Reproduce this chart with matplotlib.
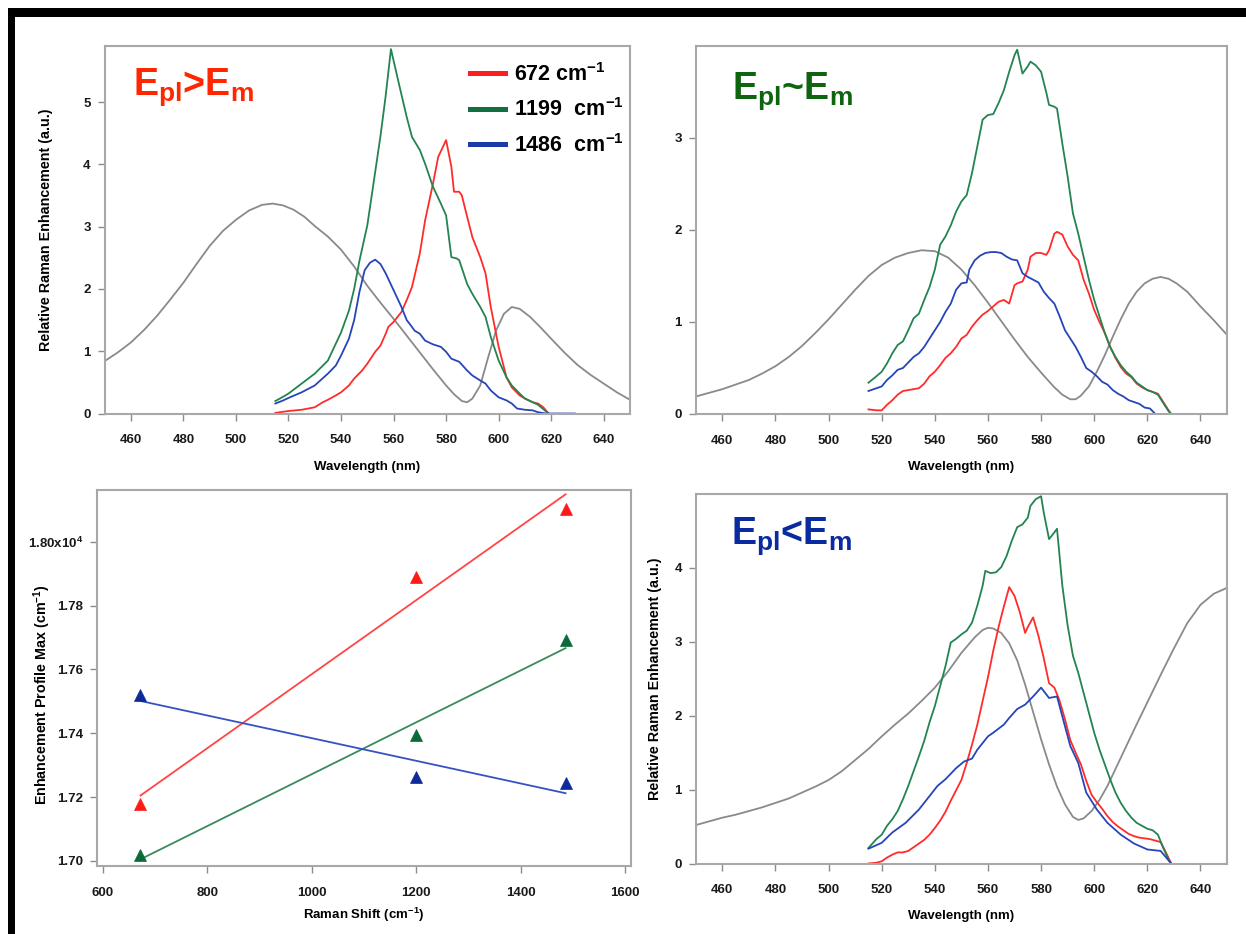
import numpy as np
import matplotlib
matplotlib.use("Agg")
import matplotlib.pyplot as plt
from matplotlib.lines import Line2D
from matplotlib.patches import Rectangle

plt.rcParams['font.family'] = ['Liberation Sans', 'DejaVu Sans']
plt.rcParams['font.weight'] = 'bold'
plt.rcParams['mathtext.fontset'] = 'custom'
plt.rcParams['mathtext.rm'] = 'Liberation Sans:bold'
plt.rcParams['mathtext.bf'] = 'Liberation Sans:bold'
plt.rcParams['mathtext.it'] = 'Liberation Sans:bold:italic'
plt.rcParams['mathtext.default'] = 'rm'

# ---------------- data ----------------
# Panel A : E_pl > E_m
gray_a_x = [450, 455, 460, 465, 470, 475, 480, 485, 490, 495, 500, 505, 510, 514, 518, 522, 526, 530, 535, 540, 545, 550, 555, 560, 565, 570, 575, 580, 583, 586, 588, 590, 593, 596, 599, 602, 605, 608, 612, 616, 620, 625, 630, 635, 640, 645, 650]
gray_a_y = [0.84, 0.98, 1.14, 1.34, 1.57, 1.83, 2.10, 2.40, 2.69, 2.93, 3.11, 3.26, 3.35, 3.37, 3.34, 3.27, 3.16, 3.01, 2.84, 2.63, 2.36, 2.05, 1.78, 1.52, 1.25, 0.98, 0.71, 0.45, 0.31, 0.20, 0.18, 0.24, 0.45, 0.90, 1.33, 1.60, 1.71, 1.68, 1.55, 1.38, 1.20, 0.98, 0.78, 0.62, 0.48, 0.34, 0.22]

red_a_x = [515, 520, 525, 530, 533, 535, 538, 540, 543, 545, 548, 550, 553, 555, 557, 558, 560, 563, 565, 567, 570, 572, 575, 577, 580, 582, 583, 585, 586, 588, 590, 593, 595, 597, 600, 603, 605, 608, 610, 613, 615, 617, 619]
red_a_y = [0.01, 0.04, 0.06, 0.10, 0.18, 0.22, 0.29, 0.34, 0.45, 0.56, 0.69, 0.80, 0.99, 1.09, 1.28, 1.39, 1.47, 1.63, 1.82, 2.03, 2.57, 3.10, 3.69, 4.12, 4.39, 3.96, 3.56, 3.56, 3.50, 3.16, 2.83, 2.51, 2.25, 1.71, 1.07, 0.58, 0.42, 0.29, 0.24, 0.18, 0.16, 0.10, 0.0]

green_a_x = [515, 518, 520, 525, 530, 535, 540, 543, 545, 547, 550, 552, 555, 557, 559, 562, 565, 567, 570, 572, 575, 578, 580, 582, 584, 585, 588, 590, 593, 595, 597, 600, 603, 605, 608, 610, 613, 615, 617, 619]
green_a_y = [0.20, 0.27, 0.32, 0.48, 0.64, 0.85, 1.30, 1.65, 2.00, 2.45, 3.02, 3.59, 4.45, 5.10, 5.85, 5.30, 4.76, 4.44, 4.23, 4.01, 3.64, 3.37, 3.18, 2.51, 2.49, 2.46, 2.08, 1.92, 1.71, 1.55, 1.23, 0.85, 0.58, 0.45, 0.32, 0.24, 0.18, 0.14, 0.07, 0.0]

blue_a_x = [515, 518, 520, 525, 530, 535, 538, 540, 543, 545, 547, 549, 551, 553, 555, 557, 560, 563, 565, 567, 568, 570, 572, 575, 578, 580, 582, 585, 588, 590, 593, 595, 597, 600, 603, 605, 607, 610, 613, 615, 618, 620, 625, 629]
blue_a_y = [0.16, 0.21, 0.25, 0.34, 0.45, 0.64, 0.77, 0.93, 1.20, 1.50, 1.95, 2.30, 2.42, 2.47, 2.40, 2.25, 1.98, 1.71, 1.50, 1.39, 1.33, 1.28, 1.17, 1.11, 1.07, 0.99, 0.88, 0.83, 0.69, 0.61, 0.53, 0.48, 0.37, 0.26, 0.21, 0.16, 0.08, 0.06, 0.05, 0.02, 0.0, 0.0, 0.0, 0.0]

# Panel B : E_pl ~ E_m
gray_b_x = [450, 455, 460, 465, 470, 475, 480, 485, 490, 495, 500, 505, 510, 515, 520, 525, 530, 535, 540, 545, 550, 555, 560, 565, 570, 575, 580, 585, 588, 591, 593, 595, 598, 601, 604, 607, 610, 613, 616, 619, 622, 625, 628, 631, 635, 640, 645, 650]
gray_b_y = [0.19, 0.23, 0.27, 0.32, 0.37, 0.44, 0.52, 0.62, 0.74, 0.88, 1.03, 1.19, 1.35, 1.50, 1.62, 1.70, 1.75, 1.78, 1.77, 1.70, 1.57, 1.40, 1.21, 1.01, 0.81, 0.62, 0.45, 0.29, 0.21, 0.16, 0.16, 0.20, 0.30, 0.46, 0.64, 0.84, 1.03, 1.20, 1.33, 1.42, 1.47, 1.49, 1.47, 1.42, 1.33, 1.17, 1.02, 0.86]

wl_b = [515, 518, 520, 522, 524, 526, 528, 530, 532, 534, 536, 538, 540, 542, 544, 546, 548, 550, 552, 554, 556, 558, 560, 562, 564, 566, 568, 570, 571, 573, 575, 576, 578, 580, 582, 583, 585, 586, 588, 590, 592, 594, 596, 598, 600, 602, 604, 606, 608, 610, 612, 614, 616, 618, 620, 622, 624, 626, 628, 629]
green_b_y = [0.34, 0.41, 0.46, 0.55, 0.66, 0.75, 0.79, 0.91, 1.04, 1.09, 1.24, 1.38, 1.57, 1.84, 1.93, 2.05, 2.20, 2.31, 2.38, 2.62, 2.91, 3.20, 3.25, 3.26, 3.38, 3.52, 3.72, 3.90, 3.96, 3.70, 3.78, 3.83, 3.79, 3.72, 3.49, 3.36, 3.34, 3.32, 2.94, 2.58, 2.18, 1.96, 1.71, 1.46, 1.24, 1.06, 0.88, 0.73, 0.62, 0.53, 0.46, 0.41, 0.34, 0.30, 0.26, 0.24, 0.21, 0.12, 0.03, 0.0]
red_b_y = [0.05, 0.04, 0.04, 0.10, 0.15, 0.21, 0.25, 0.26, 0.27, 0.28, 0.33, 0.41, 0.46, 0.53, 0.61, 0.66, 0.73, 0.82, 0.86, 0.95, 1.02, 1.08, 1.12, 1.17, 1.22, 1.24, 1.20, 1.40, 1.42, 1.44, 1.57, 1.71, 1.75, 1.75, 1.73, 1.78, 1.96, 1.98, 1.95, 1.82, 1.73, 1.67, 1.46, 1.31, 1.13, 1.00, 0.88, 0.73, 0.61, 0.51, 0.44, 0.40, 0.33, 0.29, 0.26, 0.24, 0.22, 0.13, 0.04, 0.0]

blue_b_x = [515, 518, 520, 522, 524, 526, 528, 530, 532, 534, 536, 538, 540, 542, 544, 546, 548, 550, 552, 553, 555, 557, 559, 561, 563, 565, 567, 569, 571, 573, 575, 577, 579, 581, 583, 585, 587, 589, 591, 593, 595, 597, 599, 601, 603, 605, 607, 609, 611, 613, 615, 617, 619, 621, 623]
blue_b_y = [0.25, 0.28, 0.30, 0.37, 0.42, 0.48, 0.50, 0.56, 0.62, 0.66, 0.73, 0.82, 0.91, 1.00, 1.11, 1.20, 1.35, 1.42, 1.43, 1.57, 1.67, 1.72, 1.75, 1.76, 1.76, 1.75, 1.71, 1.68, 1.67, 1.53, 1.49, 1.46, 1.43, 1.33, 1.26, 1.20, 1.06, 0.91, 0.82, 0.73, 0.62, 0.50, 0.46, 0.41, 0.35, 0.32, 0.26, 0.22, 0.19, 0.15, 0.13, 0.11, 0.07, 0.06, 0.0]

# Panel C : enhancement profile maximum vs Raman shift
raman_shift = [672, 1199, 1486]
epmax_red = [1.7179, 1.7889, 1.8101]
epmax_green = [1.7019, 1.7394, 1.7692]
epmax_blue = [1.7519, 1.7263, 1.7245]

# Panel D : E_pl < E_m
gray_d_x = [450, 455, 460, 465, 470, 475, 480, 485, 490, 495, 500, 505, 510, 515, 520, 525, 530, 535, 540, 545, 550, 555, 558, 560, 562, 565, 568, 571, 574, 577, 580, 583, 586, 589, 592, 594, 596, 599, 602, 605, 610, 615, 620, 625, 630, 635, 640, 645, 650]
gray_d_y = [0.52, 0.57, 0.62, 0.66, 0.71, 0.76, 0.82, 0.88, 0.96, 1.04, 1.13, 1.25, 1.40, 1.55, 1.72, 1.88, 2.03, 2.20, 2.38, 2.60, 2.85, 3.06, 3.16, 3.19, 3.18, 3.12, 2.98, 2.75, 2.42, 2.05, 1.68, 1.34, 1.04, 0.80, 0.63, 0.59, 0.61, 0.71, 0.86, 1.05, 1.43, 1.81, 2.18, 2.55, 2.91, 3.25, 3.50, 3.65, 3.73]

green_d_x = [515, 518, 520, 522, 524, 526, 528, 530, 532, 534, 536, 538, 540, 542, 544, 546, 548, 550, 552, 554, 556, 558, 559, 561, 563, 565, 567, 569, 571, 573, 575, 576, 578, 580, 581, 583, 585, 586, 588, 590, 592, 594, 596, 598, 600, 602, 604, 606, 608, 610, 612, 614, 616, 618, 620, 622, 624, 626, 628, 629]
green_d_y = [0.21, 0.33, 0.39, 0.51, 0.60, 0.71, 0.87, 1.05, 1.25, 1.45, 1.66, 1.91, 2.13, 2.40, 2.67, 2.99, 3.04, 3.10, 3.15, 3.26, 3.49, 3.76, 3.96, 3.93, 3.94, 4.01, 4.16, 4.37, 4.55, 4.59, 4.68, 4.84, 4.93, 4.97, 4.75, 4.39, 4.48, 4.53, 3.76, 3.22, 2.81, 2.58, 2.31, 2.04, 1.77, 1.54, 1.34, 1.14, 0.96, 0.82, 0.71, 0.62, 0.55, 0.51, 0.47, 0.45, 0.39, 0.21, 0.05, 0.0]

red_d_x = [515, 518, 520, 522, 524, 526, 528, 530, 532, 534, 536, 538, 540, 542, 544, 546, 548, 550, 552, 554, 556, 558, 560, 562, 564, 566, 568, 570, 572, 574, 575, 577, 579, 581, 583, 585, 587, 589, 591, 593, 595, 597, 599, 601, 603, 605, 607, 609, 611, 613, 615, 617, 619, 621, 623, 625, 627, 629]
red_d_y = [0.00, 0.01, 0.03, 0.08, 0.12, 0.15, 0.15, 0.17, 0.22, 0.27, 0.32, 0.39, 0.48, 0.58, 0.70, 0.85, 0.99, 1.13, 1.36, 1.61, 1.88, 2.20, 2.52, 2.88, 3.20, 3.48, 3.74, 3.62, 3.40, 3.12, 3.20, 3.33, 3.08, 2.78, 2.44, 2.38, 2.20, 1.95, 1.67, 1.50, 1.34, 1.12, 0.93, 0.83, 0.74, 0.64, 0.56, 0.50, 0.45, 0.40, 0.37, 0.35, 0.34, 0.33, 0.31, 0.29, 0.15, 0.0]

blue_d_x = [515, 520, 524, 529, 534, 541, 544, 548, 551, 554, 556, 560, 562, 566, 568, 571, 574, 577, 580, 583, 586, 588, 591, 594, 597, 601, 605, 610, 615, 620, 625, 629]
blue_d_y = [0.20, 0.28, 0.42, 0.55, 0.73, 1.05, 1.14, 1.29, 1.38, 1.42, 1.54, 1.72, 1.77, 1.88, 1.97, 2.09, 2.15, 2.26, 2.38, 2.24, 2.26, 1.99, 1.59, 1.36, 0.96, 0.73, 0.55, 0.39, 0.27, 0.19, 0.17, 0.0]

wl_ticks = [460, 480, 500, 520, 540, 560, 580, 600, 620, 640]
legend_labels = ['672 cm$^{-1}$', '1199  cm$^{-1}$', '1486  cm$^{-1}$']
panel_titles = ['E$_{pl}$>E$_{m}$', 'E$_{pl}$~E$_{m}$', 'E$_{pl}$<E$_{m}$']
c_xticks = [600, 800, 1000, 1200, 1400, 1600]
c_ticks = [1.70, 1.72, 1.74, 1.76, 1.78, 1.80]
c_ticklabels = ['1.70', '1.72', '1.74', '1.76', '1.78', '1.80x10$^{4}$']

# ---------------- style ----------------
RED = '#ff2b2b'
GREEN = '#238450'
BLUE = '#2645b8'
GRAY = '#8a8a8a'
SPINE = '#a8a8a8'
YLAB = 10.3

W, H = 1246, 934
fig = plt.figure(figsize=(W / 100, H / 100), dpi=100)
fig.patch.set_facecolor('white')


def px_axes(left, right, top, bottom):
    return fig.add_axes([left / W, 1 - bottom / H, (right - left) / W, (bottom - top) / H])


def style(ax):
    for s in ax.spines.values():
        s.set_color(SPINE)
        s.set_linewidth(1.5)
    ax.tick_params(direction='out', length=5, width=1.0, color='#8c8c8c',
                   labelsize=9.5, labelcolor='#1a1a1a')
    ax.tick_params(axis='x', pad=10)
    ax.tick_params(axis='y', pad=5)
    for lab in ax.get_xticklabels() + ax.get_yticklabels():
        lab.set_fontweight('bold')


def profile(ax, gx, gy, series, ymax, yticks, title, tcolor, tpos, xlabpad):
    ax.plot(gx, gy, color=GRAY, lw=1.3)
    for x, y, c in series:
        ax.plot(x, y, color=c, lw=1.3)
    ax.set_xlim(450, 650)
    ax.set_ylim(0, ymax)
    ax.set_xticks(wl_ticks)
    ax.set_yticks(yticks)
    ax.set_xlabel('Wavelength (nm)', fontsize=9.5, fontweight='bold', labelpad=xlabpad)
    ax.text(tpos[0], tpos[1], title, transform=ax.transAxes, fontsize=27,
            color=tcolor, fontweight='bold', va='baseline', ha='left')
    style(ax)


# Panel A
ax1 = px_axes(104.6, 630, 46, 413.5)
profile(ax1, gray_a_x, gray_a_y,
        [(red_a_x, red_a_y, RED), (green_a_x, green_a_y, GREEN), (blue_a_x, blue_a_y, BLUE)],
        5.9, [0, 1, 2, 3, 4, 5], panel_titles[0], '#ff2600', (0.054, 0.867), 10.5)
ax1.set_ylabel('Relative Raman Enhancement (a.u.)', fontsize=YLAB, fontweight='bold')
ax1.yaxis.set_label_coords(-0.098, 0.5)
handles = [Line2D([], [], color=c, lw=3.6) for c in ['#ff1e1e', '#127040', '#1a3aa8']]
ax1.legend(handles, legend_labels, loc='upper left', bbox_to_anchor=(0.6955, 0.954),
           frameon=False, prop={'size': 15.5, 'weight': 'bold'}, handlelength=1.63,
           handletextpad=0.42, labelspacing=0.58, borderpad=0, borderaxespad=0)

# Panel B
ax2 = px_axes(695.8, 1227, 46, 414)
profile(ax2, gray_b_x, gray_b_y,
        [(wl_b, red_b_y, RED), (wl_b, green_b_y, GREEN), (blue_b_x, blue_b_y, BLUE)],
        4.0, [0, 1, 2, 3], panel_titles[1], '#0f640f', (0.068, 0.858), 10.5)

# Panel D
ax4 = px_axes(695.8, 1227, 494, 863.5)
profile(ax4, gray_d_x, gray_d_y,
        [(red_d_x, red_d_y, RED), (green_d_x, green_d_y, GREEN), (blue_d_x, blue_d_y, BLUE)],
        5.0, [0, 1, 2, 3, 4], panel_titles[2], '#0a2aa0', (0.067, 0.865), 9.5)
ax4.set_ylabel('Relative Raman Enhancement (a.u.)', fontsize=YLAB, fontweight='bold')
ax4.yaxis.set_label_coords(-0.063, 0.5)

# Panel C
ax3 = px_axes(97, 631, 490, 866)
for ys, cm, cl in [(epmax_red, '#ff1a1a', '#ff4545'),
                   (epmax_green, '#0b6a3a', '#3a8a5c'),
                   (epmax_blue, '#0d2a9c', '#3552c4')]:
    k, b = np.polyfit(raman_shift, ys, 1)
    xs = np.array([raman_shift[0], raman_shift[-1]])
    ax3.plot(xs, k * xs + b, color=cl, lw=1.3)
    ax3.plot(raman_shift, ys, linestyle='none', marker='^', ms=8, color=cm,
             markeredgecolor=cm, markeredgewidth=0.5)
ax3.set_xlim(588.7, 1611.3)
ax3.set_ylim(1.6984, 1.8162)
ax3.set_xticks(c_xticks)
ax3.set_yticks(c_ticks)
ax3.set_yticklabels(c_ticklabels)
ax3.set_xlabel('Raman Shift (cm$^{-1}$)', fontsize=9.5, fontweight='bold', labelpad=5)
ax3.set_ylabel('Enhancement Profile Max (cm$^{-1}$)', fontsize=YLAB, fontweight='bold')
style(ax3)
ax3.yaxis.set_label_coords(-0.082, 0.455)

# black frame strips of the original picture
fig.add_artist(Rectangle((8 / W, 1 - 17 / H), 1 - 8 / W, 9 / H, transform=fig.transFigure,
                         facecolor='black', edgecolor='none'))
fig.add_artist(Rectangle((8 / W, 0), 7 / W, 1 - 8 / H, transform=fig.transFigure,
                         facecolor='black', edgecolor='none'))

fig.savefig('out.png', dpi=100, facecolor='white')
